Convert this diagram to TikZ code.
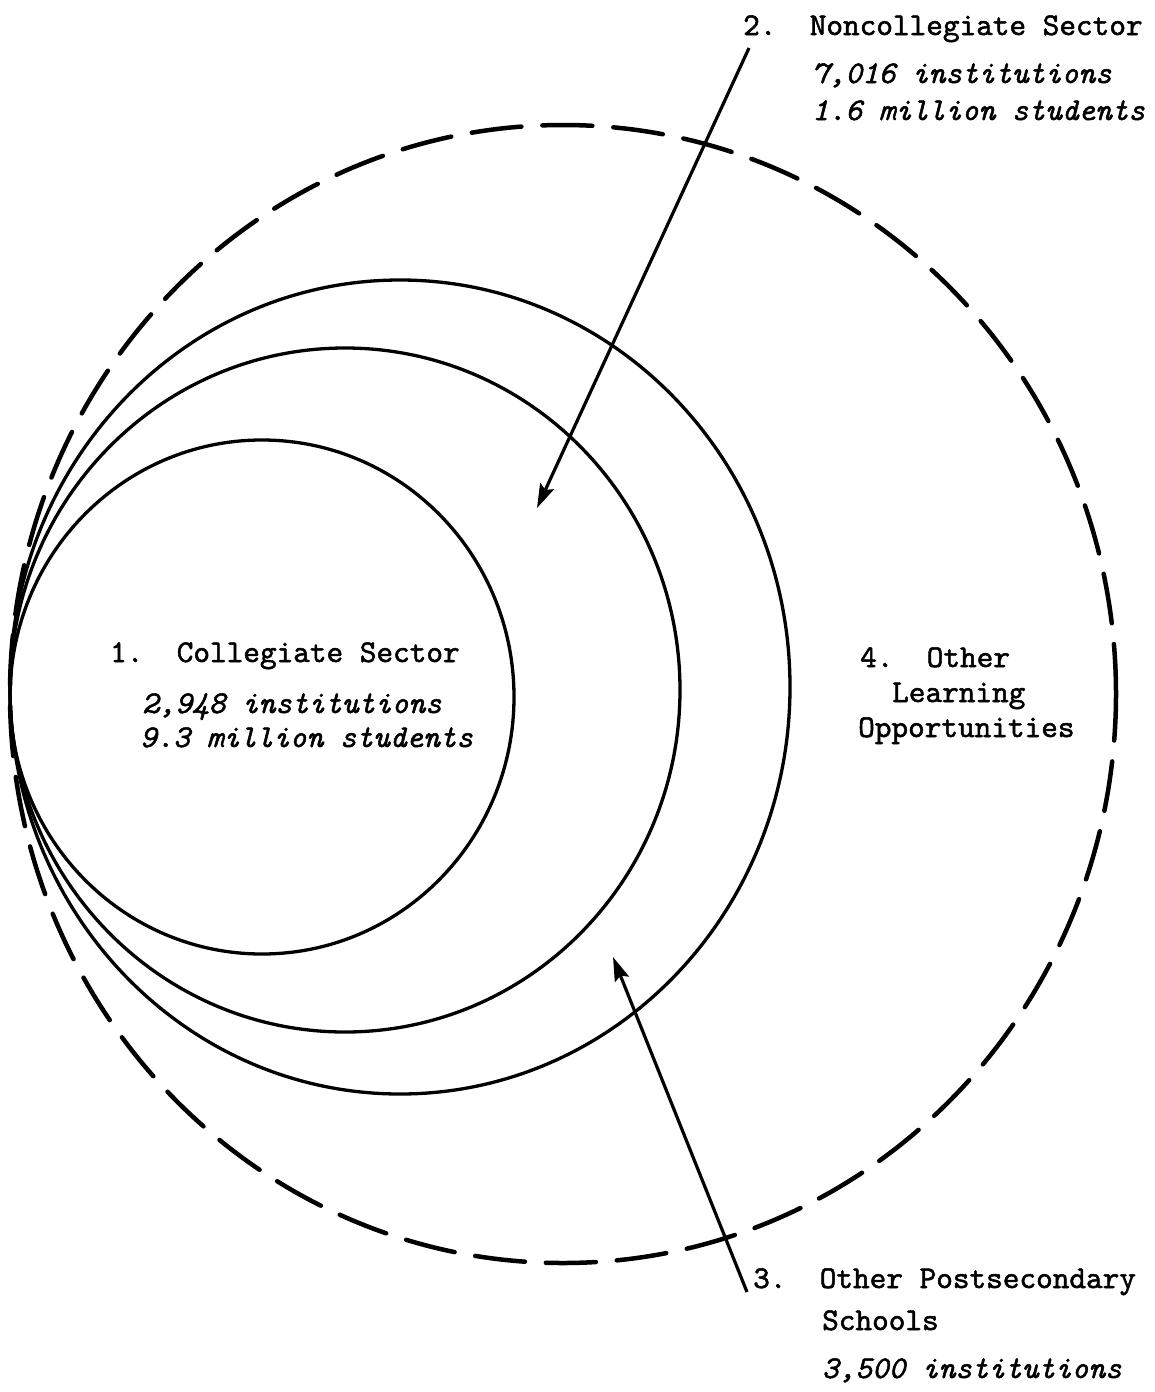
\documentclass[tikz,border=0pt]{standalone}
\usepackage{fontspec}
\newfontfamily\tw{lmmono10-regular.otf}[ItalicFont=lmmono10-italic.otf,FakeBold=1.6]
\usetikzlibrary{arrows.meta}
\begin{document}
\begin{tikzpicture}[x=1pt,y=-1pt,
  ring/.style={line width=3.3pt},
  outerring/.style={line width=4.5pt,line cap=round,dash pattern=on 50pt off 21pt},
  pointer/.style={line width=3.2pt,-{Stealth[length=24pt,width=15pt,inset=4pt]}},
  lbl/.style={anchor=base west,inner sep=0pt,font=\tw\fontsize{31.7}{35}\selectfont},
  ilbl/.style={lbl,font=\tw\itshape\fontsize{31.7}{35}\selectfont}]
\useasboundingbox (0,0) rectangle (1155,1392);
% sectors
\draw[ring] (262,697) ellipse [x radius=252pt, y radius=257pt];
\draw[ring] (345,690) ellipse [x radius=335pt, y radius=342pt];
\draw[ring] (400,687) ellipse [x radius=390pt, y radius=407pt];
\draw[outerring] (563,694) ellipse [x radius=553pt, y radius=569pt];
% labels
\node[lbl] (s2) at (743,35) {2.\ \ Noncollegiate Sector};
\node[ilbl] (s2a) at (812,83) {7,016 institutions};
\node[ilbl] (s2b) at (812,120) {1.6 million students};
\node[lbl] (s1) at (110,662) {1.\ \ Collegiate Sector};
\node[ilbl] (s1a) at (142,713) {2,948 institutions};
\node[ilbl] (s1b) at (140,747) {9.3 million students};
\node[lbl] (s4) at (860,667) {4.\ \ Other};
\node[lbl] (s4a) at (892,702) {Learning};
\node[lbl] (s4b) at (858,737) {Opportunities};
\node[lbl] (s3) at (753,1288) {3.\ \ Other Postsecondary};
\node[lbl] (s3a) at (822,1330) {Schools};
\node[ilbl] (s3b) at (822,1378) {3,500 institutions};
% pointers
\coordinate (a1) at (749,48);
\coordinate (t1) at (537,508);
\coordinate (a2) at (747,1292);
\coordinate (t2) at (613,957);
\draw[pointer] (a1) -- (t1);
\draw[pointer] (a2) -- (t2);
\end{tikzpicture}
\end{document}
